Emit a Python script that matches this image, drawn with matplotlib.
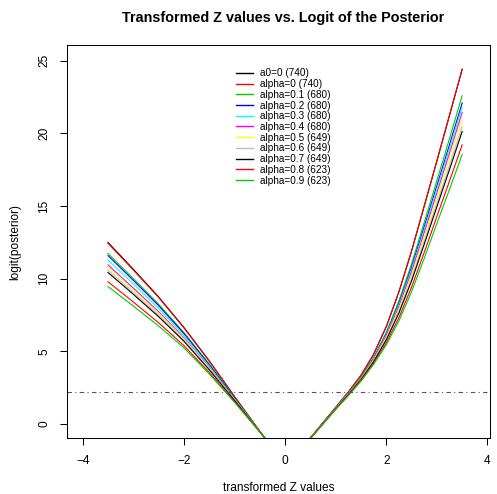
import matplotlib
matplotlib.use("Agg")
import matplotlib.pyplot as plt
import numpy as np

plt.rcParams['font.family'] = ['Liberation Sans', 'DejaVu Sans']

# transformed Z values (left and right branches)
x_left = [-3.5, -3.0, -2.5, -2.0, -1.5, -1.0, -0.5, -0.3]
x_right = [0.3, 0.5, 0.75, 1.0, 1.25, 1.5, 1.75, 2.0, 2.25, 2.5, 2.75, 3.0, 3.25, 3.5]

labels = ["a0=0 (740)", "alpha=0 (740)", "alpha=0.1 (680)", "alpha=0.2 (680)",
          "alpha=0.3 (680)", "alpha=0.4 (680)", "alpha=0.5 (649)", "alpha=0.6 (649)",
          "alpha=0.7 (649)", "alpha=0.8 (623)", "alpha=0.9 (623)"]
colors = ["black", "#FF0000", "#00CD00", "#0000FF", "#00FFFF", "#FF00FF",
          "#FFFF00", "#BEBEBE", "black", "#FF0000", "#00CD00"]

# logit(posterior), left branch
left_vals = [
    [12.50, 10.65, 8.75, 6.65, 4.35, 1.90, -0.50, -1.40],
    [12.44, 10.60, 8.71, 6.62, 4.33, 1.89, -0.50, -1.40],
    [11.74, 10.02, 8.25, 6.30, 4.13, 1.80, -0.51, -1.40],
    [11.59, 9.89, 8.15, 6.23, 4.08, 1.78, -0.52, -1.40],
    [11.28, 9.64, 7.95, 6.09, 3.99, 1.74, -0.52, -1.40],
    [10.95, 9.36, 7.73, 5.94, 3.89, 1.70, -0.53, -1.40],
    [10.80, 9.23, 7.63, 5.87, 3.85, 1.68, -0.53, -1.40],
    [10.60, 9.07, 7.50, 5.78, 3.79, 1.65, -0.53, -1.40],
    [10.43, 8.93, 7.39, 5.70, 3.74, 1.63, -0.53, -1.40],
    [9.79, 8.40, 6.97, 5.40, 3.55, 1.54, -0.54, -1.40],
    [9.46, 8.12, 6.75, 5.25, 3.45, 1.50, -0.55, -1.40],
]

# logit(posterior), right branch
right_vals = [
    [-1.80, -0.95, 0.10, 1.15, 2.20, 3.35, 4.80, 6.70, 9.10, 11.90, 15.00, 18.10, 21.25, 24.40],
    [-1.80, -0.95, 0.10, 1.15, 2.20, 3.35, 4.80, 6.70, 9.10, 11.90, 15.00, 18.10, 21.25, 24.43],
    [-1.80, -0.97, 0.07, 1.10, 2.12, 3.22, 4.58, 6.31, 8.47, 11.02, 13.87, 16.75, 19.65, 22.59],
    [-1.80, -0.97, 0.06, 1.09, 2.10, 3.19, 4.52, 6.20, 8.30, 10.79, 13.57, 16.39, 19.22, 22.09],
    [-1.80, -0.97, 0.06, 1.08, 2.09, 3.17, 4.49, 6.14, 8.21, 10.65, 13.39, 16.18, 18.97, 21.80],
    [-1.80, -0.98, 0.05, 1.07, 2.07, 3.15, 4.44, 6.06, 8.08, 10.48, 13.17, 15.91, 18.65, 21.44],
    [-1.80, -0.98, 0.04, 1.06, 2.05, 3.12, 4.39, 5.97, 7.93, 10.26, 12.89, 15.58, 18.26, 20.98],
    [-1.80, -0.98, 0.03, 1.05, 2.03, 3.08, 4.33, 5.86, 7.76, 10.02, 12.58, 15.21, 17.82, 20.48],
    [-1.80, -0.99, 0.03, 1.04, 2.02, 3.06, 4.29, 5.79, 7.64, 9.85, 12.37, 14.95, 17.52, 20.13],
    [-1.80, -0.99, 0.01, 1.02, 1.98, 3.00, 4.18, 5.59, 7.32, 9.41, 11.80, 14.28, 16.72, 19.21],
    [-1.80, -1.00, 0.00, 1.00, 1.95, 2.95, 4.10, 5.45, 7.10, 9.10, 11.40, 13.80, 16.15, 18.55],
]

threshold = np.log(0.9 / 0.1)   # logit(0.9)

W, H = 497, 494
fig = plt.figure(figsize=(W / 100, H / 100), dpi=100)
ax = fig.add_axes([67 / W, 1 - 438 / H, (490 - 67) / W, (438 - 45) / H])

lw = 0.8
for i in range(len(labels)):
    ax.plot(x_left, left_vals[i], color=colors[i], lw=lw, label=labels[i])
    ax.plot(x_right, right_vals[i], color=colors[i], lw=lw)

ax.axhline(threshold, color="#555555", lw=lw, dashes=(4, 3, 1, 3))

ax.set_xlim(-4.31, 4.05)
ax.set_ylim(-0.96, 26.08)
ax.set_xticks([-4, -2, 0, 2, 4])
ax.set_yticks([0, 5, 10, 15, 20, 25])
ax.tick_params(length=5, width=0.75, labelsize=8.6, pad=7)
for lab in ax.get_yticklabels():
    lab.set_rotation(90)
    lab.set_va("center")
for s in ax.spines.values():
    s.set_linewidth(0.75)

ax.set_xlabel("transformed Z values", fontsize=8.6, labelpad=11)
ax.set_ylabel("logit(posterior)", fontsize=8.6, labelpad=12)
fig.text(283 / W, 1 - 18 / H, "Transformed Z values vs. Logit of the Posterior",
         ha="center", va="center", fontsize=10.4, fontweight="bold")

leg = ax.legend(loc="upper left", bbox_to_anchor=(236 / W, 1 - 68.5 / H),
                bbox_transform=fig.transFigure, frameon=False, fontsize=7.2,
                handlelength=1.7, handletextpad=0.75, labelspacing=0.07,
                borderpad=0, borderaxespad=0)
for h in leg.get_lines():
    h.set_linewidth(1.0)

plt.savefig("out.png", dpi=100)
